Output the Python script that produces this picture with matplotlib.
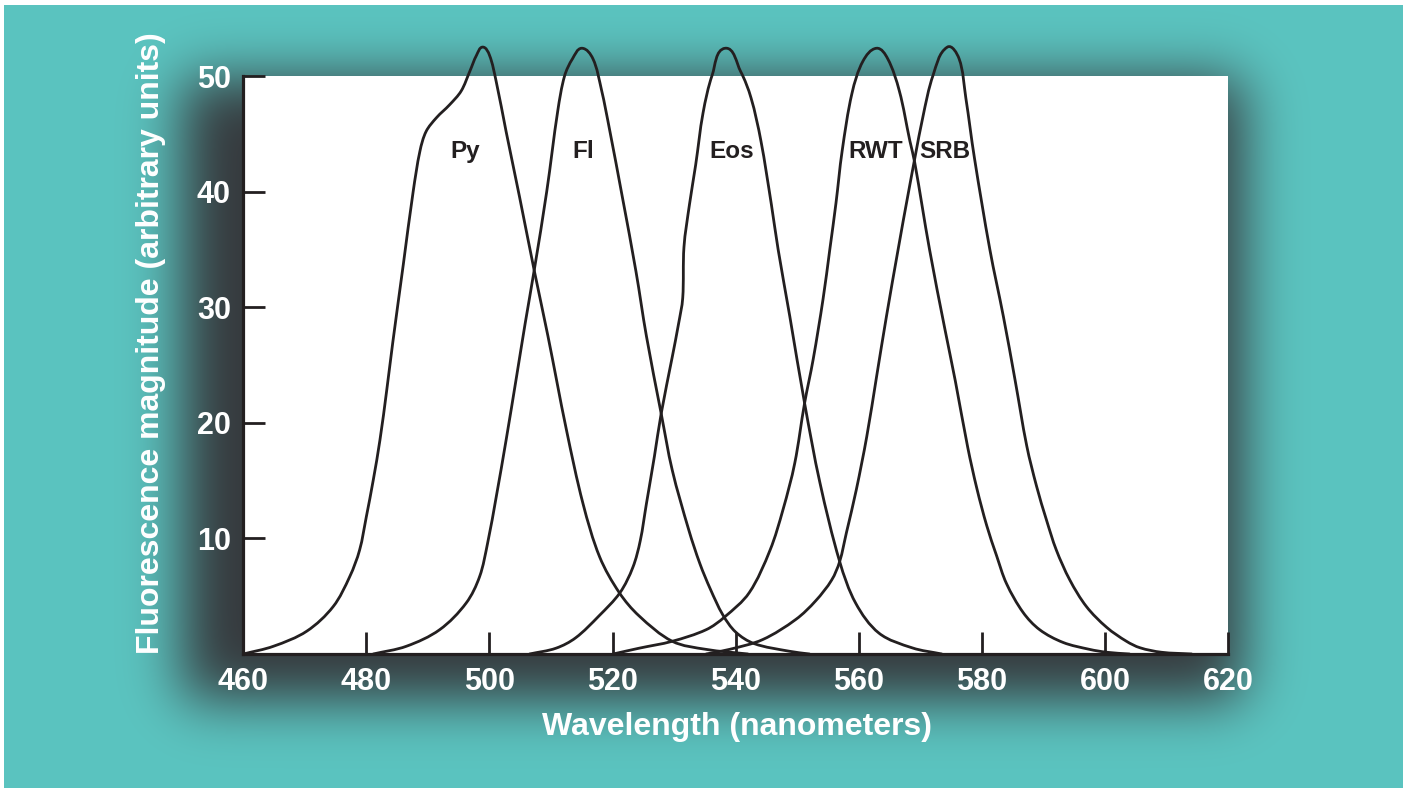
import math
import numpy as np
import matplotlib
matplotlib.use('Agg')
import matplotlib.pyplot as plt
from matplotlib.patches import Rectangle, PathPatch
from matplotlib.path import Path

# longitudes de onda (nm) y magnitudes
py_wl = [460.0, 464.9, 470.3, 474.6, 477.3, 478.9, 480.0, 481.1, 482.2, 483.3, 484.3,
         486.0, 487.6, 488.7, 489.7, 491.4, 493.5, 495.4, 496.8, 497.9, 498.9, 500.0,
         501.1, 502.7, 504.9, 507.3, 509.5, 512.5, 515.2, 517.9, 521.1, 524.3, 529.7,
         535.2, 542.0]
py_val = [0.0, 0.67, 1.97, 4.1, 6.7, 9.0, 11.9, 15.0, 18.5, 22.8, 27.0,
          33.7, 40.0, 43.5, 45.2, 46.4, 47.5, 48.7, 50.4, 51.8, 52.5, 51.8,
          49.5, 45.2, 39.5, 33.1, 27.5, 19.4, 13.0, 8.4, 5.3, 3.3, 1.1,
          0.4, 0.0]

fl_wl = [481.1, 486.5, 491.9, 496.2, 498.4, 499.7, 501.1, 502.7, 504.4, 505.8, 507.3,
         509.3, 511.1, 512.2, 513.5, 515.0, 516.8, 518.2, 519.5, 521.6, 523.8, 525.5,
         527.9, 529.7, 532.4, 534.2, 535.9, 537.9, 540.0, 543.0, 548.7, 552.0]
fl_val = [0.0, 0.67, 2.1, 4.4, 6.7, 9.6, 13.6, 18.5, 24.0, 28.6, 33.3,
          40.0, 47.0, 50.0, 51.5, 52.4, 51.5, 48.8, 45.4, 39.5, 33.1, 27.5,
          20.8, 15.9, 10.7, 7.8, 5.6, 3.4, 1.9, 0.9, 0.24, 0.0]

eos_wl = [506.5, 510.8, 514.0, 517.8, 521.2, 523.3, 524.5, 525.5, 526.8, 527.9, 529.7,
          530.7, 531.4, 531.6, 532.5, 533.5, 534.7, 536.2, 538.3, 540.8, 542.5, 544.1,
          545.8, 546.9, 548.8, 551.2, 553.7, 556.9, 559.5, 563.3, 568.7, 573.5]
eos_val = [0.0, 0.5, 1.4, 3.3, 5.3, 7.5, 9.8, 13.0, 17.1, 20.8, 25.7,
           28.5, 30.8, 35.2, 38.9, 42.3, 46.8, 50.1, 52.4, 50.4, 48.1, 44.4,
           38.9, 35.0, 29.2, 21.7, 14.8, 8.0, 4.4, 1.8, 0.53, 0.0]

rwt_wl = [520.1, 524.3, 529.7, 535.2, 538.2, 542.2, 545.6, 547.7, 549.6, 551.2, 552.6,
          554.2, 555.3, 556.3, 557.3, 558.9, 560.7, 562.9, 564.7, 566.6, 568.3, 569.1,
          571.5, 574.0, 575.7, 577.7, 579.2, 580.8, 582.4, 584.0, 586.7, 589.4, 593.2,
          597.5, 600.3, 604.0]
rwt_val = [0.0, 0.5, 1.1, 2.1, 3.2, 5.3, 9.0, 12.5, 16.5, 21.7, 25.5,
           30.7, 35.0, 39.0, 43.5, 48.5, 51.3, 52.4, 51.5, 48.7, 44.4, 42.5,
           35.0, 28.1, 23.6, 17.9, 14.3, 11.1, 8.5, 6.1, 3.6, 2.1, 1.0,
           0.4, 0.15, 0.0]

srb_wl = [535.2, 539.0, 544.4, 549.8, 553.0, 555.6, 556.9, 558.0, 559.6, 561.3, 562.9,
          564.5, 566.4, 568.1, 570.4, 572.1, 574.4, 576.3, 577.4, 578.8, 581.3, 583.5,
          585.4, 587.3, 588.9, 590.5, 592.1, 594.3, 597.0, 600.3, 603.5, 605.7, 609.2,
          614.1]
srb_val = [0.0, 0.4, 1.25, 3.0, 4.6, 6.4, 8.0, 10.5, 14.2, 18.8, 24.0,
           29.2, 35.0, 40.0, 46.4, 50.1, 52.5, 51.5, 48.1, 42.9, 35.0, 29.2,
           23.7, 18.0, 14.5, 11.6, 9.0, 6.4, 4.1, 2.3, 1.1, 0.54, 0.15,
           0.0]

dye_names = ['Py', 'Fl', 'Eos', 'RWT', 'SRB']
label_wl = [496.0, 515.3, 539.4, 562.8, 574.0]
label_val = 42.9

x_ticks = [460, 480, 500, 520, 540, 560, 580, 600, 620]
y_ticks = [10, 20, 30, 40, 50]

W, H, DPI = 1407, 788, 100
TEAL = '#5BC4C0'
INK = '#231F20'

plt.rcParams['font.family'] = ['Liberation Sans', 'DejaVu Sans']
plt.rcParams['font.weight'] = 'bold'


def smooth_path(xs, ys, ratio):
    """Curva suave (Bezier) que pasa por los puntos leidos."""
    s = np.array([1.0, ratio])
    q = np.column_stack([xs, ys]) * s
    d = np.zeros_like(q)
    d[1:-1] = q[2:] - q[:-2]
    d[0] = q[1] - q[0]
    d[-1] = q[-1] - q[-2]
    d /= np.linalg.norm(d, axis=1)[:, None]
    verts = [q[0]]
    codes = [Path.MOVETO]
    for i in range(len(q) - 1):
        seg = np.linalg.norm(q[i + 1] - q[i]) / 3
        verts += [q[i] + d[i] * seg, q[i + 1] - d[i + 1] * seg, q[i + 1]]
        codes += [Path.CURVE4] * 3
    return Path(np.array(verts) / s, codes)


# +0.01 para que Agg no trunque a 787 filas
fig = plt.figure(figsize=((W + 0.01) / DPI, (H + 0.01) / DPI), dpi=DPI, facecolor=TEAL)

# fondo turquesa con sombra difusa alrededor del recuadro
bg = fig.add_axes([0, 0, 1, 1])
bg.set_axis_off()
erf = np.vectorize(math.erf)


def band(t, a, b, s):
    k = s * math.sqrt(2)
    return 0.5 * (erf((t - a) / k) - erf((t - b) / k))


xs = np.arange(W) + 0.5
ys = np.arange(H) + 0.5
alpha = np.outer(band(ys, 79, 700, 28), band(xs, 182, 1242, 28))
teal = np.array(matplotlib.colors.to_rgb(TEAL))
dark = np.array(matplotlib.colors.to_rgb('#36393D'))
img = teal * (1 - alpha[..., None]) + dark * alpha[..., None]
bg.imshow(img, extent=(0, W, H, 0), aspect='auto', interpolation='bilinear')
bg.set_xlim(0, W)
bg.set_ylim(H, 0)
bg.add_patch(Rectangle((0, 0), W, 5, color='white', lw=0))
bg.add_patch(Rectangle((0, 0), 4, H, color='white', lw=0))
bg.add_patch(Rectangle((W - 4, 0), 4, H, color='white', lw=0))

ax_w, ax_h = 984.7, 578
ax = fig.add_axes([243.3 / W, 134 / H, ax_w / W, ax_h / H])
ax.set_facecolor('white')
ax.set_xlim(460, 620)
ax.set_ylim(0, 50)
ratio = (ax_h / 50) / (ax_w / 160)

for wl, val in [(py_wl, py_val), (fl_wl, fl_val), (eos_wl, eos_val),
                (rwt_wl, rwt_val), (srb_wl, srb_val)]:
    patch = PathPatch(smooth_path(wl, val, ratio), fill=False, edgecolor=INK, lw=2.0,
                      capstyle='round', joinstyle='round', clip_on=False, zorder=3)
    ax.add_patch(patch)

for name, x in zip(dye_names, label_wl):
    ax.text(x, label_val, name, ha='center', va='baseline', fontsize=17.5,
            fontweight='bold', color=INK)

for side in ['top', 'right']:
    ax.spines[side].set_visible(False)
for side in ['left', 'bottom']:
    ax.spines[side].set_linewidth(2.3)
    ax.spines[side].set_color(INK)

ax.set_xticks(x_ticks)
ax.set_yticks(y_ticks)
ax.tick_params(direction='in', length=16, width=2.0, color=INK, labelcolor='white',
               labelsize=22)
ax.tick_params(axis='x', pad=9)
ax.tick_params(axis='y', pad=9)

fig.text(736.7 / W, 1 - 727 / H, 'Wavelength (nanometers)', ha='center', va='center',
         fontsize=23, fontweight='bold', color='white')
fig.text(151 / W, 1 - 343 / H, 'Fluorescence magnitude (arbitrary units)', ha='center',
         va='center', rotation=90, fontsize=23, fontweight='bold', color='white')

fig.savefig('out.png', dpi=DPI, facecolor=TEAL)
